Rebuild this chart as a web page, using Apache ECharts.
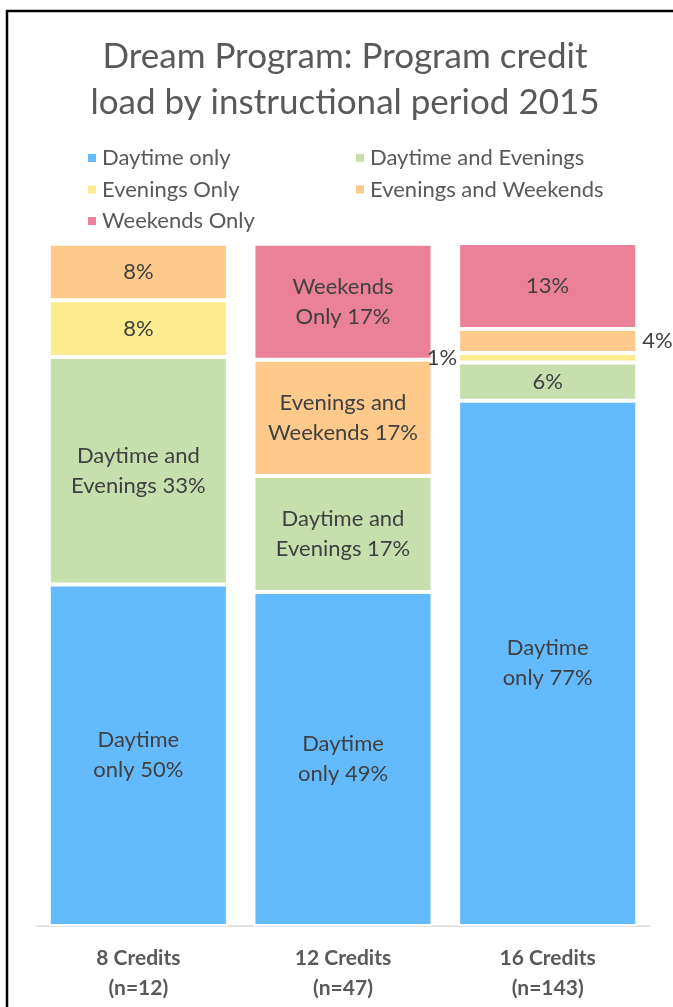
<!DOCTYPE html>
<html>
<head>
<meta charset="utf-8">
<script src="https://cdn.jsdelivr.net/npm/echarts@6/dist/echarts.min.js"></script>
<style>
  html, body { margin: 0; padding: 0; background: #fff; }
  #chart { width: 673px; height: 1007px; }
</style>
</head>
<body>
<div id="chart"></div>
<script>
// categories (x axis)
var categories = ['8 Credits\n(n=12)', '12 Credits\n(n=47)', '16 Credits\n(n=143)'];

// series names, bottom to top of the stack
var seriesNames = ['Daytime only', 'Daytime and Evenings', 'Evenings Only', 'Evenings and Weekends', 'Weekends Only'];

// percent of students, one value per category
var daytimeOnly      = [50.0, 48.9, 76.9];
var daytimeEvenings  = [33.3, 17.0, 5.6];
var eveningsOnly     = [8.3, 0, 1.4];
var eveningsWeekends = [8.3, 17.0, 3.5];
var weekendsOnly     = [0, 17.0, 12.6];

// text placed before the percentage in each data label
var daytimeOnlyText      = ['Daytime\nonly ', 'Daytime\nonly ', 'Daytime\nonly '];
var daytimeEveningsText  = ['Daytime and\nEvenings ', 'Daytime and\nEvenings ', ''];
var eveningsOnlyText     = ['', '', ''];
var eveningsWeekendsText = ['', 'Evenings and\nWeekends ', ''];
var weekendsOnlyText     = ['', 'Weekends\nOnly ', ''];

var colors = ['#63BAFD', '#C6DFAD', '#FCEB8F', '#FECA8C', '#EA8199'];

var fontName = 'Lato';
var chart = echarts.init(document.getElementById('chart'));

function makeSeries(idx, values, texts, outside) {
  return {
    name: seriesNames[idx],
    type: 'bar',
    stack: 'total',
    barCategoryGap: '12.5%',
    itemStyle: { color: colors[idx], borderColor: '#fff', borderWidth: 2 },
    data: values.map(function (v, i) {
      var item = { value: v };
      if (outside && outside[i]) {
        item.label = { position: outside[i], distance: outside[i] === 'left' ? 1 : 5 };
      }
      return item;
    }),
    label: {
      show: true,
      position: 'inside',
      fontFamily: fontName,
      fontSize: 22,
      lineHeight: 30,
      color: '#404040',
      formatter: function (p) {
        if (!p.value) return '';
        return texts[p.dataIndex] + Math.round(p.value) + '%';
      }
    }
  };
}

var legendText = { fontFamily: fontName, fontSize: 22, lineHeight: 22, color: '#595959' };

chart.setOption({
  animation: false,
  title: {
    text: 'Dream Program: Program credit\nload by instructional period 2015',
    left: 340,
    textAlign: 'center',
    top: 29,
    textStyle: { fontFamily: fontName, fontSize: 35, lineHeight: 46, fontWeight: 'normal', color: '#595959' }
  },
  legend: [
    {
      data: [seriesNames[0], seriesNames[2], seriesNames[4]],
      orient: 'vertical',
      left: 81, top: 142,
      icon: 'rect', itemWidth: 10, itemHeight: 10, itemGap: 9.5,
      textStyle: legendText
    },
    {
      data: [seriesNames[1], seriesNames[3]],
      orient: 'vertical',
      left: 349, top: 142,
      icon: 'rect', itemWidth: 10, itemHeight: 10, itemGap: 9.5,
      textStyle: legendText
    }
  ],
  grid: { left: 36, right: 23, top: 243, bottom: 81, containLabel: false },
  xAxis: {
    type: 'category',
    data: categories,
    axisTick: { show: false },
    axisLine: { lineStyle: { color: '#D9D9D9', width: 1.5 } },
    axisLabel: {
      fontFamily: fontName, fontSize: 21, fontWeight: 'bold', color: '#595959',
      lineHeight: 30, margin: 17
    }
  },
  yAxis: { type: 'value', min: 0, max: 100, show: false, splitLine: { show: false } },
  graphic: [{
    type: 'rect',
    shape: { x: 7, y: 11, width: 720, height: 1060 },
    style: { fill: 'none', stroke: '#000', lineWidth: 2.5 },
    silent: true
  }],
  series: [
    makeSeries(0, daytimeOnly, daytimeOnlyText),
    makeSeries(1, daytimeEvenings, daytimeEveningsText),
    makeSeries(2, eveningsOnly, eveningsOnlyText, [null, null, 'left']),
    makeSeries(3, eveningsWeekends, eveningsWeekendsText, [null, null, 'right']),
    makeSeries(4, weekendsOnly, weekendsOnlyText)
  ]
});
</script>
</body>
</html>
